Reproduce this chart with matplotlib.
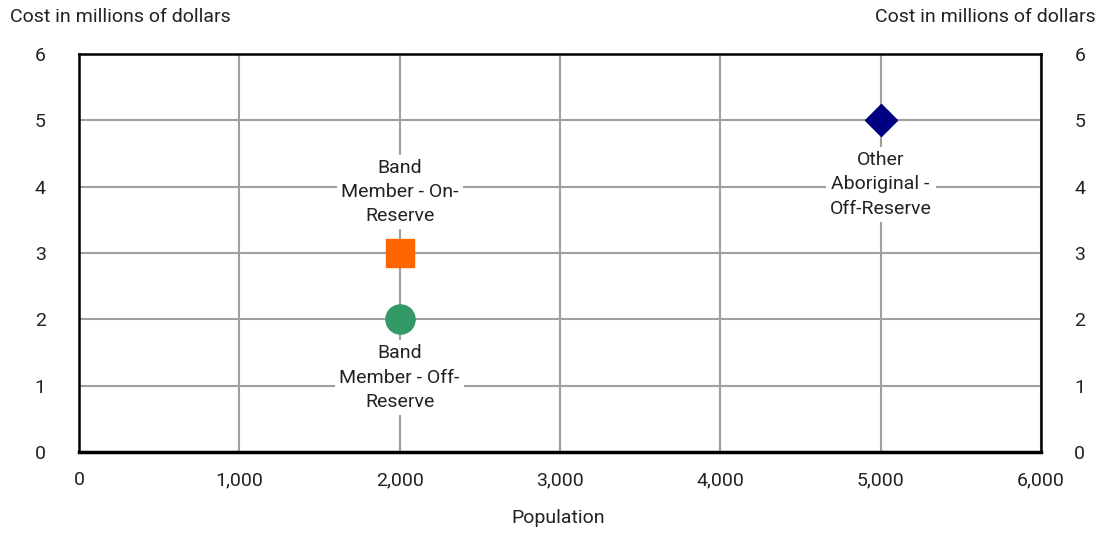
import matplotlib
matplotlib.use("Agg")
import matplotlib.pyplot as plt
from matplotlib.ticker import FuncFormatter

plt.rcParams['font.family'] = ['Roboto', 'DejaVu Sans']

labels = ["Band\nMember - On-\nReserve", "Band\nMember - Off-\nReserve", "Other\nAboriginal -\nOff-Reserve"]
population = [2000, 2000, 5000]
cost = [3, 2, 5]
colors = ["#FF6600", "#339966", "#000080"]
markers = ["s", "o", "D"]
sizes = [20, 21, 16]
label_offsets = [44, -42, -46]  # points, vertical

FS = 14
TXT = "#222222"

fig = plt.figure(figsize=(11.06, 5.35), dpi=100)
ax = fig.add_axes([79/1106, 1-452/535, (1041-79)/1106, (452-54)/535])
ax.set_xlim(0, 6000)
ax.set_ylim(0, 6)
ax.set_xticks(range(0, 6001, 1000))
ax.set_yticks(range(0, 7))
ax.xaxis.set_major_formatter(FuncFormatter(lambda v, p: f"{int(v):,}"))
ax.grid(True, color="#A0A0A0", lw=1.5)
ax.set_axisbelow(True)
for s in ['left', 'top', 'right']:
    ax.spines[s].set_color('black')
    ax.spines[s].set_linewidth(1.8)
ax.spines['bottom'].set_linewidth(2.5)
ax.tick_params(length=0, labelsize=FS, colors=TXT)
ax.tick_params(axis='y', pad=24, labelright=True)
ax.tick_params(axis='x', pad=14)

for lbl, x, y, c, m, s, off in zip(labels, population, cost, colors, markers, sizes, label_offsets):
    ax.plot([x], [y], marker=m, color=c, markersize=s, linestyle='none', zorder=3)
    ax.annotate(lbl, (x, y), xytext=(0, off), textcoords='offset points',
                ha='center', va='center', fontsize=FS, color=TXT, linespacing=1.45,
                bbox=dict(facecolor='white', edgecolor='none', pad=3), zorder=4)

fig.text(10/1106, 1-17/535, "Cost in millions of dollars", ha='left', va='center', fontsize=FS, color=TXT)
fig.text(1096/1106, 1-17/535, "Cost in millions of dollars", ha='right', va='center', fontsize=FS, color=TXT)
fig.text(558/1106, 1-518/535, "Population", ha='center', va='center', fontsize=FS, color=TXT)

fig.savefig("out.png", dpi=100)
